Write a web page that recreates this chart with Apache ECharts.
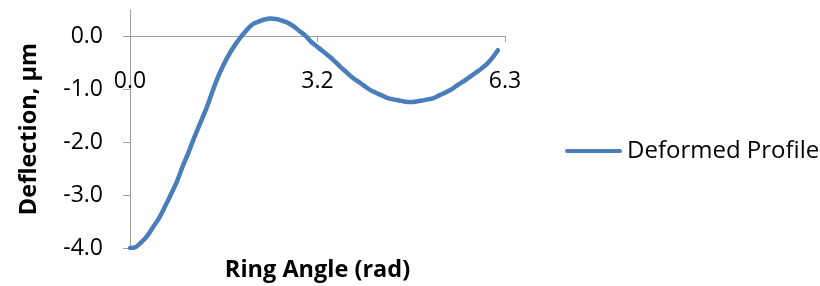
<!DOCTYPE html>
<html>
<head>
<title>Deformed Profile</title>
<style>
	html, body { margin:0; padding:0; background:#fff; }
	#main { width:820px; height:286px; }
</style>
</head>
<body>
<div id="main"></div>
<script src="https://cdn.jsdelivr.net/npm/echarts@6/dist/echarts.min.js"></script>
<script>
// ring angle (rad) and deflection (um)
var angles = [0.00,0.10,0.20,0.29,0.39,0.49,0.59,0.69,0.79,0.88,0.98,1.08,1.18,1.28,1.37,1.47,
	1.57,1.67,1.77,1.87,1.96,2.06,2.16,2.26,2.36,2.45,2.55,2.65,2.75,2.85,2.95,3.04,
	3.14,3.24,3.34,3.44,3.53,3.63,3.73,3.83,3.93,4.03,4.12,4.22,4.32,4.42,4.52,4.61,
	4.71,4.81,4.91,5.01,5.11,5.20,5.30,5.40,5.50,5.60,5.69,5.79,5.89,5.99,6.09,6.18];
var deflection = [-4.00,-3.98,-3.88,-3.77,-3.60,-3.43,-3.21,-2.98,-2.74,-2.47,-2.20,-1.91,-1.64,-1.37,-1.09,-0.79,
	-0.54,-0.33,-0.15,0.00,0.12,0.23,0.28,0.32,0.34,0.33,0.30,0.26,0.19,0.10,0.01,-0.10,
	-0.19,-0.28,-0.37,-0.47,-0.57,-0.67,-0.77,-0.85,-0.93,-1.01,-1.06,-1.11,-1.16,-1.19,-1.21,-1.23,
	-1.24,-1.23,-1.21,-1.19,-1.16,-1.11,-1.06,-1.00,-0.92,-0.85,-0.78,-0.70,-0.62,-0.53,-0.40,-0.26];
var xTicks = [0, 3.15, 6.3];
var xTickLabels = ['0.0', '3.2', '6.3'];
var yTicks = [-4, -3, -2, -1, 0];

var font = 'Open Sans';
var axisGrey = '#a0a0a0';
var blue = '#4a7ebb';

var points = [];
for (var i = 0; i < angles.length; i++) {
	points.push([angles[i], deflection[i]]);
}

var myChart = echarts.init(document.getElementById('main'));
myChart.setOption({
	animation : false,
	grid : { left:130, right:315, top:10, bottom:38, outerBoundsMode:'none', containLabel:false },
	legend : {
		left : 565,
		top : 139,
		padding : 0,
		itemWidth : 57,
		itemHeight : 20,
		itemGap : 0,
		icon : 'path://M2,8 L55,8 A2,2 0 0 1 55,12 L2,12 A2,2 0 0 1 2,8 Z',
		textStyle : { fontFamily:font, fontSize:24, color:'#000' },
		data : ['Deformed Profile']
	},
	xAxis : {
		type : 'value',
		min : 0,
		max : 6.3,
		// x axis crosses at y = 0, i.e. 212px above the bottom of the grid
		offset : -212,
		name : 'Ring Angle (rad)',
		nameLocation : 'middle',
		nameGap : 222,
		nameTextStyle : { fontFamily:font, fontSize:23.5, fontWeight:'bold', color:'#000' },
		axisLine : { onZero:false, lineStyle:{ color:axisGrey, width:1 } },
		axisTick : { show:true, length:6, customValues:xTicks, lineStyle:{ color:axisGrey } },
		axisLabel : {
			customValues : xTicks,
			margin : 34,
			fontFamily : font, fontSize:23, color:'#000',
			formatter : function (v) {
				for (var k = 0; k < xTicks.length; k++) {
					if (Math.abs(xTicks[k] - v) < 1e-6) return xTickLabels[k];
				}
				return '';
			}
		},
		splitLine : { show:false }
	},
	yAxis : {
		type : 'value',
		min : -4,
		max : 0.5,
		name : 'Deflection, μm',
		nameLocation : 'middle',
		nameGap : 89,
		nameTextStyle : { fontFamily:font, fontSize:23.5, fontWeight:'bold', color:'#000' },
		axisLine : { show:true, lineStyle:{ color:axisGrey, width:1 } },
		axisTick : { show:true, length:7, customValues:yTicks, lineStyle:{ color:axisGrey } },
		axisLabel : {
			customValues : yTicks,
			margin : 27,
			fontFamily : font, fontSize:23, color:'#000',
			formatter : function (v) { return v.toFixed(1); }
		},
		splitLine : { show:false }
	},
	series : [{
		name : 'Deformed Profile',
		type : 'line',
		data : points,
		symbol : 'none',
		smooth : 0.3,
		lineStyle : { color:blue, width:4.5, cap:'round' },
		itemStyle : { color:blue }
	}]
});
</script>
</body>
</html>
